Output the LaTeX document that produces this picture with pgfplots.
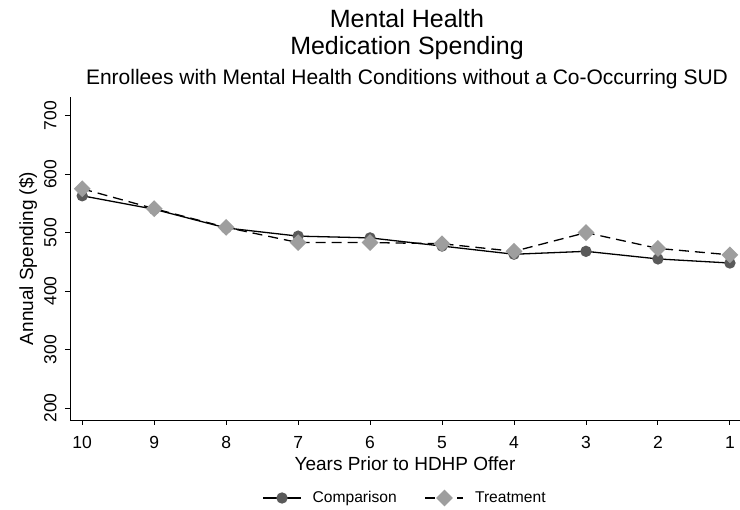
\documentclass[border=0pt]{standalone}
\usepackage{pgfplots}
\pgfplotsset{compat=1.18}
\usepackage{fontspec}
\setmainfont{Liberation Sans}
\definecolor{compc}{HTML}{5A5A5A}
\definecolor{treatc}{HTML}{9E9E9E}
\begin{document}
\begin{tikzpicture}[x=1pt,y=1pt]
\useasboundingbox (-70,-90) rectangle (670,420);
\begin{axis}[
  at={(0,0)}, anchor=south west,
  scale only axis, width=670pt, height=323pt,
  xmin=0.86, xmax=10.17, ymin=179.5, ymax=732,
  x dir=reverse,
  axis x line*=bottom, axis y line*=left,
  axis line style={line width=0.9pt, -},
  xtick={1,...,10}, ytick={200,300,...,700},
  tick style={line width=0.9pt, black},
  tick align=outside, major tick length=5pt,
  /pgf/number format/assume math mode=true,
  ticklabel style={font=\fontsize{17.5}{20}\selectfont},
  yticklabel style={rotate=90, anchor=south, yshift=5pt},
  xticklabel style={yshift=-8pt},
  xlabel={Years Prior to HDHP Offer},
  ylabel={Annual Spending (\$)},
  label style={font=\fontsize{19}{22}\selectfont},
  xlabel style={at={(axis description cs:0.5,-0.155)}, anchor=base},
  ylabel style={at={(axis description cs:-0.0552,0.5)}, anchor=base},
  legend columns=2,
  legend style={draw=none, fill=none, at={(0.5,-0.2415)}, anchor=center,
    font=\fontsize{15.6}{18}\selectfont,
    /tikz/every odd column/.append style={column sep=9pt},
    /tikz/every even column/.append style={column sep=26pt}},
  legend image code/.code={
    \draw[mark repeat=2, mark phase=2, #1] plot coordinates {(0pt,0pt) (19pt,0pt) (38pt,0pt)};},
  clip=false,
]
\addplot[black, line width=1.3pt, mark=*, mark size=5pt,
  mark options={solid, draw=compc, fill=compc}]
  coordinates {(10,563) (9,540) (8,508) (7,494) (6,491) (5,477) (4,463) (3,468) (2,455) (1,448)};
\addlegendentry{Comparison}
\addplot[black, line width=1.3pt, dash pattern=on 10pt off 6pt, mark=square*, mark size=5.3pt,
  mark options={solid, rotate=45, draw=treatc, fill=treatc}]
  coordinates {(10,575) (9,541) (8,509) (7,483) (6,483) (5,481) (4,468) (3,500) (2,473) (1,462)};
\addlegendentry{Treatment}
\end{axis}
\node[font=\fontsize{25}{30}\selectfont, anchor=base] at (337,392) {Mental Health};
\node[font=\fontsize{25}{30}\selectfont, anchor=base] at (337,365) {Medication Spending};
\node[font=\fontsize{21}{25}\selectfont, anchor=base] at (337,335) {Enrollees with Mental Health Conditions without a Co-Occurring SUD};
\end{tikzpicture}
\end{document}
